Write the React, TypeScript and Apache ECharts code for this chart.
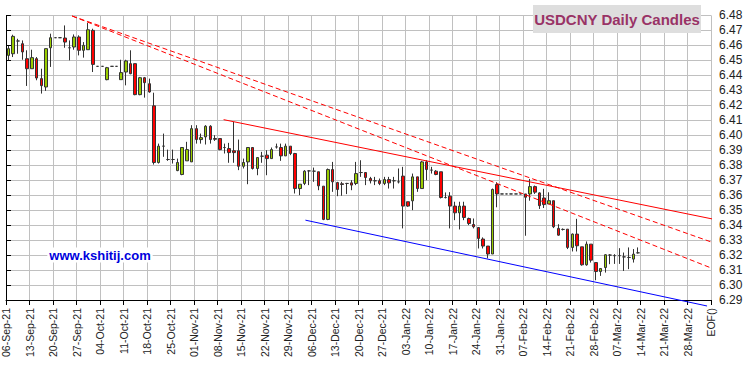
import React, { useEffect, useRef } from "react";
import * as echarts from "echarts";

// Weekly tick labels (one per 5 trading-day slots)
const weekLabels = [
  "06-Sep-21", "13-Sep-21", "20-Sep-21", "27-Sep-21", "04-Oct-21", "11-Oct-21",
  "18-Oct-21", "25-Oct-21", "01-Nov-21", "08-Nov-21", "15-Nov-21", "22-Nov-21",
  "29-Nov-21", "06-Dec-21", "13-Dec-21", "20-Dec-21", "27-Dec-21", "03-Jan-22",
  "10-Jan-22", "17-Jan-22", "24-Jan-22", "31-Jan-22", "07-Feb-22", "14-Feb-22",
  "21-Feb-22", "28-Feb-22", "07-Mar-22", "14-Mar-22", "21-Mar-22", "28-Mar-22", "EOF()",
];

const opens = [
  6.4533, 6.4544, 6.4629, 6.4611, 6.4511, 6.4444, 6.4511, 6.4378, 6.4322, 6.4584,
  6.4651, 6.4651, 6.4649, 6.4584, 6.4589, 6.4656, 6.4567, 6.4571, 6.4700, 6.4460,
  6.4460, 6.4371, 6.4460, 6.4460, 6.4371, 6.4422, 6.4478, 6.4478, 6.4271, 6.4384,
  6.4344, 6.4196, 6.3818, 6.3927, 6.3838, 6.3838, 6.3764, 6.3738, 6.3829, 6.3822,
  6.4044, 6.3971, 6.3989, 6.4060, 6.3978, 6.3978, 6.3918, 6.3911, 6.3896, 6.3896,
  6.3793, 6.3822, 6.3918, 6.3778, 6.3860, 6.3867, 6.3844, 6.3922, 6.3918, 6.3862,
  6.3927, 6.3878, 6.3644, 6.3678, 6.3762, 6.3760, 6.3756, 6.3660, 6.3438, 6.3771,
  6.3684, 6.3676, 6.3678, 6.3682, 6.3678, 6.3751, 6.3751, 6.3711, 6.3696, 6.3696,
  6.3678, 6.3704, 6.3696, 6.3689, 6.3727, 6.3556, 6.3562, 6.3722, 6.3644, 6.3822,
  6.3767, 6.3760, 6.3756, 6.3584, 6.3593, 6.3527, 6.3482, 6.3527, 6.3444, 6.3404,
  6.3384, 6.3307, 6.3260, 6.3207, 6.3671, 6.3608, 6.3608, 6.3608, 6.3608, 6.3608,
  6.3608, 6.3608, 6.3657, 6.3615, 6.3581, 6.3541, 6.3563, 6.3378, 6.3371, 6.3373,
  6.3251, 6.3340, 6.3255, 6.3135, 6.3273, 6.3150, 6.3090, 6.3117, 6.3200, 6.3196,
  6.3196, 6.3188, 6.3184, 6.3173, 6.3215,
];
const closes = [
  6.4578, 6.4660, 6.4629, 6.4556, 6.4444, 6.4518, 6.4382, 6.4331, 6.4578, 6.4651,
  6.4651, 6.4651, 6.4622, 6.4584, 6.4656, 6.4567, 6.4600, 6.4704, 6.4473, 6.4460,
  6.4460, 6.4451, 6.4460, 6.4460, 6.4418, 6.4496, 6.4411, 6.4271, 6.4384, 6.4351,
  6.4289, 6.3818, 6.3927, 6.3927, 6.3838, 6.3838, 6.3818, 6.3918, 6.3904, 6.4044,
  6.3971, 6.3984, 6.4060, 6.3971, 6.3973, 6.3904, 6.3918, 6.3884, 6.3884, 6.3793,
  6.3818, 6.3918, 6.3778, 6.3851, 6.3860, 6.3844, 6.3904, 6.3922, 6.3862, 6.3927,
  6.3878, 6.3644, 6.3673, 6.3760, 6.3762, 6.3760, 6.3662, 6.3438, 6.3771, 6.3689,
  6.3638, 6.3671, 6.3678, 6.3667, 6.3744, 6.3751, 6.3718, 6.3696, 6.3696, 6.3678,
  6.3704, 6.3682, 6.3696, 6.3689, 6.3527, 6.3527, 6.3722, 6.3644, 6.3822, 6.3771,
  6.3767, 6.3738, 6.3584, 6.3584, 6.3527, 6.3482, 6.3527, 6.3451, 6.3411, 6.3389,
  6.3311, 6.3260, 6.3207, 6.3638, 6.3608, 6.3608, 6.3608, 6.3608, 6.3608, 6.3608,
  6.3586, 6.3657, 6.3620, 6.3530, 6.3537, 6.3563, 6.3389, 6.3333, 6.3371, 6.3251,
  6.3340, 6.3262, 6.3135, 6.3273, 6.3166, 6.3090, 6.3110, 6.3202, 6.3200, 6.3196,
  6.3196, 6.3188, 6.3184, 6.3206, 6.3215,
];
const lows = [
  6.4500, 6.4522, 6.4544, 6.4504, 6.4329, 6.4444, 6.4367, 6.4278, 6.4296, 6.4456,
  6.4651, 6.4651, 6.4584, 6.4500, 6.4571, 6.4533, 6.4518, 6.4571, 6.4422, 6.4460,
  6.4460, 6.4367, 6.4460, 6.4460, 6.4371, 6.4333, 6.4407, 6.4267, 6.4267, 6.4251,
  6.4284, 6.3804, 6.3811, 6.3856, 6.3829, 6.3811, 6.3760, 6.3733, 6.3829, 6.3822,
  6.3944, 6.3944, 6.3938, 6.3944, 6.3962, 6.3900, 6.3878, 6.3816, 6.3816, 6.3767,
  6.3778, 6.3673, 6.3771, 6.3733, 6.3816, 6.3733, 6.3844, 6.3911, 6.3829, 6.3862,
  6.3867, 6.3611, 6.3600, 6.3667, 6.3667, 6.3689, 6.3633, 6.3433, 6.3433, 6.3622,
  6.3593, 6.3596, 6.3607, 6.3633, 6.3667, 6.3722, 6.3667, 6.3678, 6.3667, 6.3667,
  6.3667, 6.3644, 6.3644, 6.3678, 6.3378, 6.3522, 6.3500, 6.3622, 6.3644, 6.3700,
  6.3744, 6.3733, 6.3578, 6.3578, 6.3378, 6.3433, 6.3371, 6.3433, 6.3400, 6.3378,
  6.3244, 6.3244, 6.3178, 6.3207, 6.3519, 6.3608, 6.3608, 6.3608, 6.3608, 6.3608,
  6.3329, 6.3563, 6.3608, 6.3508, 6.3514, 6.3541, 6.3380, 6.3329, 6.3364, 6.3240,
  6.3224, 6.3224, 6.3129, 6.3129, 6.3150, 6.3032, 6.3061, 6.3083, 6.3139, 6.3141,
  6.3141, 6.3094, 6.3106, 6.3150, 6.3210,
];
const highs = [
  6.4596, 6.4671, 6.4644, 6.4633, 6.4567, 6.4571, 6.4522, 6.4444, 6.4578, 6.4678,
  6.4651, 6.4651, 6.4733, 6.4633, 6.4673, 6.4667, 6.4622, 6.4749, 6.4711, 6.4460,
  6.4460, 6.4456, 6.4460, 6.4460, 6.4504, 6.4504, 6.4567, 6.4478, 6.4389, 6.4389,
  6.4378, 6.4284, 6.3944, 6.4011, 6.3904, 6.3904, 6.3844, 6.3918, 6.3956, 6.4067,
  6.4067, 6.4011, 6.4067, 6.4067, 6.4000, 6.3978, 6.3944, 6.3949, 6.4089, 6.3971,
  6.3844, 6.3918, 6.3918, 6.3851, 6.3889, 6.3900, 6.3918, 6.3944, 6.3944, 6.3944,
  6.3927, 6.3882, 6.3673, 6.3767, 6.3767, 6.3784, 6.3756, 6.3660, 6.3778, 6.3822,
  6.3689, 6.3689, 6.3682, 6.3700, 6.3822, 6.3833, 6.3751, 6.3722, 6.3722, 6.3711,
  6.3722, 6.3722, 6.3722, 6.3778, 6.3789, 6.3556, 6.3744, 6.3722, 6.3829, 6.3833,
  6.3789, 6.3767, 6.3756, 6.3618, 6.3620, 6.3556, 6.3556, 6.3556, 6.3450, 6.3444,
  6.3384, 6.3318, 6.3260, 6.3644, 6.3686, 6.3608, 6.3608, 6.3608, 6.3608, 6.3608,
  6.3608, 6.3708, 6.3664, 6.3619, 6.3642, 6.3619, 6.3563, 6.3406, 6.3378, 6.3373,
  6.3344, 6.3442, 6.3255, 6.3291, 6.3273, 6.3150, 6.3110, 6.3206, 6.3206, 6.3206,
  6.3246, 6.3217, 6.3251, 6.3240, 6.3251,
];

// Trend lines: [slot index, price] endpoints
const trendA = [[14.06, 6.4796], [151.7, 6.3269]];
const trendB = [[14.06, 6.4796], [151.07, 6.3101]];
const trendC = [[46.3, 6.4104], [151.07, 6.3436]];
const trendD = [[63.71, 6.3433], [149.16, 6.286]];

const TOTAL_SLOTS = 150;
const FONT = "Arial, 'Liberation Sans', sans-serif";

export default function App() {
  const ref = useRef<HTMLDivElement>(null);
  useEffect(() => {
    if (!ref.current) return;
    const chart = echarts.init(ref.current, null, { renderer: "svg" });
    const slots = Array.from({ length: TOTAL_SLOTS }, (_, i) => String(i));
    const candles = opens.map((o, i) => [o, closes[i], lows[i], highs[i]]);
    const mkLine = (data: number[][], color: string, type: any) => ({
      type: "line",
      xAxisIndex: 0,
      yAxisIndex: 0,
      data,
      symbol: "none",
      showSymbol: false,
      clip: false,
      silent: true,
      z: 5,
      lineStyle: { color, width: 1, type },
    });
    chart.setOption({
      animation: false,
      backgroundColor: "#ffffff",
      grid: { left: 6, right: 39, top: 15.4, bottom: 66, containLabel: false },
      xAxis: [
        {
          type: "value",
          min: 0,
          max: TOTAL_SLOTS,
          interval: 5,
          position: "bottom",
          axisLine: { show: true, onZero: false, lineStyle: { color: "#000", width: 1 } },
          axisTick: { show: true, length: 5, lineStyle: { color: "#000" } },
          splitLine: { show: true, lineStyle: { color: "#c0c0c0", width: 1 } },
          axisLabel: {
            rotate: 90,
            margin: 8,
            fontSize: 10.5,
            fontFamily: FONT,
            color: "#222",
            showMinLabel: true,
            showMaxLabel: true,
            formatter: (v: number) => weekLabels[Math.round(v / 5)] ?? "",
          },
        },
        {
          type: "category",
          data: slots,
          boundaryGap: true,
          show: false,
        },
      ],
      yAxis: {
        type: "value",
        position: "right",
        min: 6.29,
        max: 6.48,
        interval: 0.01,
        axisLine: { show: true, lineStyle: { color: "#000", width: 1 } },
        axisTick: { show: true, length: 5, lineStyle: { color: "#000" } },
        splitLine: { show: true, lineStyle: { color: "#c0c0c0", width: 1 } },
        axisLabel: {
          margin: 8,
          fontSize: 12,
          fontFamily: FONT,
          color: "#222",
          formatter: (v: number) => v.toFixed(2),
        },
      },
      series: [
        {
          type: "candlestick",
          xAxisIndex: 1,
          yAxisIndex: 0,
          data: candles,
          barWidth: 3,
          z: 3,
          itemStyle: {
            color: "#99cc00",
            color0: "#ff0000",
            borderColor: "#333333",
            borderColor0: "#333333",
            borderColorDoji: "#333333",
            borderWidth: 1,
          },
        },
        mkLine(trendA, "#ff0000", [5, 3]),
        mkLine(trendB, "#ff0000", [5, 3]),
        mkLine(trendC, "#ff0000", "solid"),
        mkLine(trendD, "#0000ff", "solid"),
      ],
      graphic: [
        {
          type: "rect",
          z: 100,
          shape: { x: 533, y: 5, width: 168, height: 28 },
          style: { fill: "#dedede" },
        },
        {
          type: "text",
          z: 101,
          x: 617,
          y: 19.5,
          style: {
            text: "USDCNY Daily Candles",
            fill: "#993366",
            font: `bold 15px ${FONT}`,
            align: "center",
            verticalAlign: "middle",
          },
        },
        {
          type: "text",
          z: 101,
          x: 100,
          y: 255,
          style: {
            text: "www.kshitij.com",
            fill: "#0000dd",
            font: `bold 13px ${FONT}`,
            align: "center",
            verticalAlign: "middle",
            backgroundColor: "#ffffff",
            padding: [1, 2],
          },
        },
      ],
    });
    return () => chart.dispose();
  }, []);
  return <div ref={ref} style={{ width: 750, height: 366, position: "absolute", left: 0, top: 0 }} />;
}
